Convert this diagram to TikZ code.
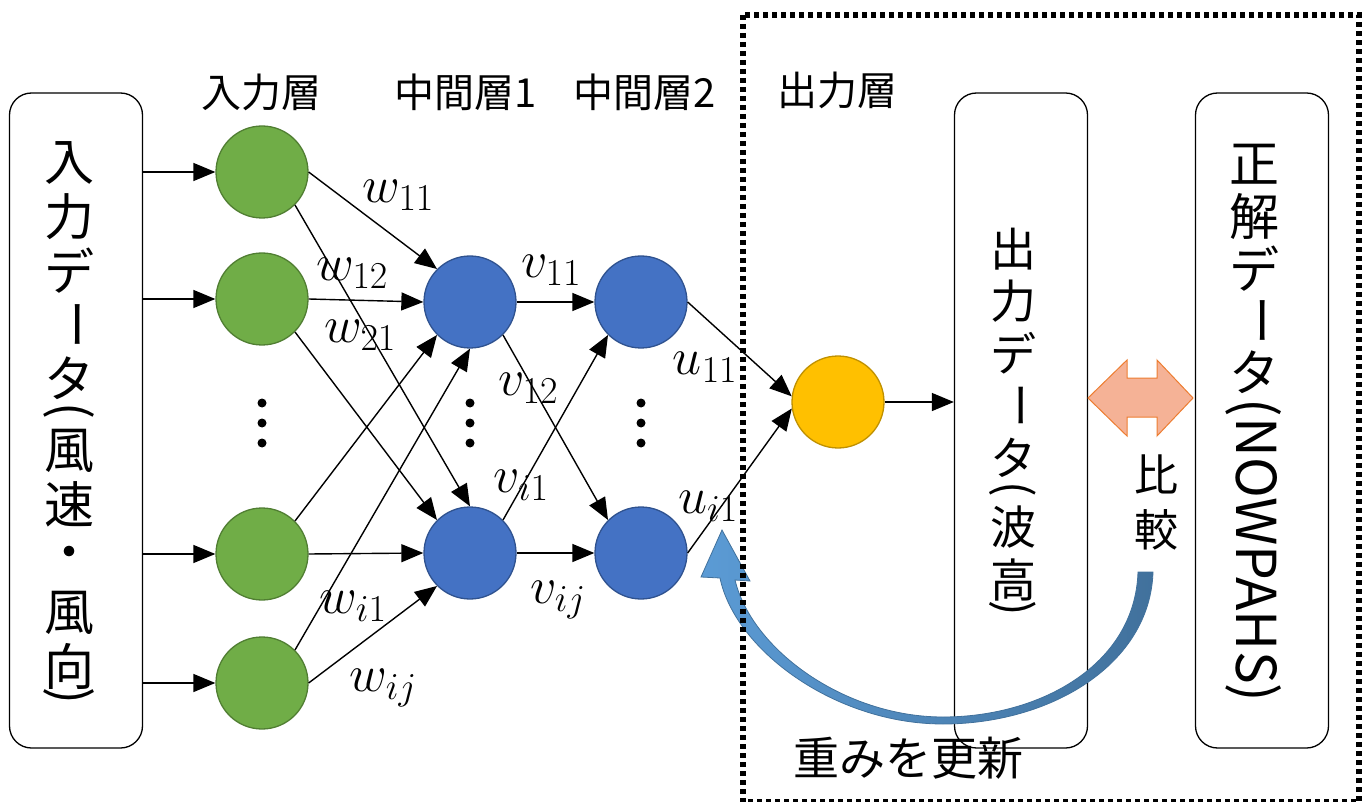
\RequirePackage{fix-cm}
\documentclass[tikz,border=0pt]{standalone}
\usepackage{fontspec}
\usepackage{graphicx}
\newfontfamily\jp{Noto Sans CJK JP}
\usetikzlibrary{arrows.meta,calc}
\DeclareMathSizes{52}{52}{38}{28}
\definecolor{gfill}{RGB}{112,173,71}
\definecolor{gline}{RGB}{80,126,50}
\definecolor{bfill}{RGB}{68,114,196}
\definecolor{bline}{RGB}{47,82,143}
\definecolor{ofill}{RGB}{255,192,0}
\definecolor{oline}{RGB}{191,144,0}
\definecolor{sfill}{RGB}{245,178,150}
\definecolor{sline}{RGB}{237,125,49}
\definecolor{clight}{RGB}{91,155,213}
\definecolor{cdark}{RGB}{65,113,156}
\newcommand\VS[2]{\hbox to 80pt{\hss\vbox to #1{\vss\hbox{#2}\vss}\hss}}
\newcommand\VR[2]{\VS{#1}{\rotatebox[origin=c]{-90}{#2}}}
\begin{document}
\begin{tikzpicture}[x=1pt,y=-1pt,
  neuron/.style={circle,minimum size=92pt,inner sep=0pt,line width=1.3pt},
  inn/.style={neuron,fill=gfill,draw=gline},
  hid/.style={neuron,fill=bfill,draw=bline},
  outn/.style={neuron,fill=ofill,draw=oline},
  databox/.style={draw,line width=1.3pt,rounded corners=22pt,minimum width=133pt,minimum height=655pt,inner sep=0pt},
  conn/.style={line width=1.4pt,-{Triangle[length=22pt,width=18pt]}},
  lbl/.style={inner sep=0pt,font=\fontsize{52}{52}\selectfont},
  hdr/.style={inner sep=0pt,font=\jp\fontsize{40}{40}\selectfont},
  vtext/.style={inner sep=0pt,font=\jp\fontsize{50}{50}\selectfont},
  otext/.style={inner sep=0pt,font=\jp\fontsize{46}{46}\selectfont}]
\useasboundingbox (0,0) rectangle (1363,802);

% data boxes
\node[databox] (lbox) at (76,420.5) {};
\node[databox] (obox) at (1021,420.5) {};
\node[databox] (rbox) at (1262,420.5) {};

% neurons
\node[inn] (i1) at (262,172) {};
\node[inn] (i2) at (262,299) {};
\node[inn] (i3) at (262,554) {};
\node[inn] (i4) at (262,683) {};
\node[hid] (a1) at (470,302) {};
\node[hid] (a2) at (470,553) {};
\node[hid] (b1) at (641,302) {};
\node[hid] (b2) at (641,553) {};
\node[outn] (o) at (838,402) {};

% vertical dots
\foreach \x in {262,470,641}{
  \foreach \y in {403,423,443}{\fill (\x,\y) circle (4.5);}}

% input arrows
\foreach \n in {i1,i2,i3,i4}{\draw[conn] (lbox.east |- \n) -- (\n.west);}

% layer 1
\draw[conn] (i1.east) -- (a1.north west);
\draw[conn] (i1.south east) -- (a2.north);
\draw[conn] (i2.east) -- (a1.west);
\draw[conn] (i2.south east) -- (a2.north west);
\draw[conn] (i3.north east) -- (a1.south west);
\draw[conn] (i3.east) -- (a2.west);
\draw[conn] (i4.north east) -- (a1.south);
\draw[conn] (i4.east) -- (a2.south west);
% layer 2
\draw[conn] (a1.east) -- (b1.west);
\draw[conn] (a1.south east) -- (b2.north west);
\draw[conn] (a2.north east) -- (b1.south west);
\draw[conn] (a2.east) -- (b2.west);
% output
\draw[conn] (b1.east) -- (o.173);
\draw[conn] (b2.east) -- (o.188);
\draw[conn] (o.east) -- (o.east -| obox.west);

% weight labels
\node[lbl] (lw11) at (398,195) {$w_{11}$};
\node[lbl] (lw12) at (352,273) {$w_{12}$};
\node[lbl] (lw21) at (360,335) {$w_{21}$};
\node[lbl] (lwi1) at (353,606) {$w_{i1}$};
\node[lbl] (lwij) at (383,688) {$w_{ij}$};
\node[lbl] (lv11) at (551,270) {$v_{11}$};
\node[lbl] (lv12) at (528,388) {$v_{12}$};
\node[lbl] (lvi1) at (521,485) {$v_{i1}$};
\node[lbl] (lvij) at (558,600) {$v_{ij}$};
\node[lbl] (lu11) at (705,367) {$u_{11}$};
\node[lbl] (lui1) at (708,506) {$u_{i1}$};

% headers
\node[hdr] (h1) at (261,92) {入力層};
\node[hdr] (h2) at (466,92) {中間層1};
\node[hdr] (h3) at (645,92) {中間層2};
\node[hdr] (h4) at (837,90) {出力層};

% box texts
\node[vtext] (ltxt) at ([xshift=-7pt]lbox.center) {\vbox{\offinterlineskip
  \VS{54pt}{入}\VS{54pt}{力}\VS{54pt}{デ}\VR{54pt}{ー}\VS{54pt}{タ}\VR{18pt}{(}%
  \VS{54pt}{風}\VS{54pt}{速}\VS{54pt}{・}\VS{54pt}{風}\VS{54pt}{向}\VR{12pt}{)}}};
\node[otext] (otxt) at ([xshift=-8pt]obox.center) {\vbox{\offinterlineskip
  \VS{52pt}{出}\VS{52pt}{力}\VS{52pt}{デ}\VR{52pt}{ー}\VS{52pt}{タ}\VR{18pt}{(}%
  \VS{52pt}{波}\VS{52pt}{高}\VR{12pt}{)}}};
\node[vtext] (rtxt) at ([xshift=-8pt]rbox.center) {\vbox{\offinterlineskip
  \VS{52pt}{正}\VS{52pt}{解}\VS{52pt}{デ}\VR{52pt}{ー}\VS{52pt}{タ}%
  \hbox to 80pt{\hss\rotatebox[origin=c]{-90}{\fontsize{55}{55}\selectfont(NOWPAHS)}\hss}}};

% compare arrow
\draw[sline,fill=sfill,line width=1pt]
  (1088,398) -- (1127,360) -- (1127,378) -- (1157,378) -- (1157,360) -- (1193,398)
  -- (1157,436) -- (1157,417) -- (1127,417) -- (1127,436) -- cycle;
\node[otext,font=\jp\fontsize{44}{44}\selectfont] (cmp) at (1156,502) {\vbox{\offinterlineskip\VS{56pt}{比}\VS{56pt}{較}}};

% feedback arrow
\path[draw=cdark,line width=0.8pt,left color=clight,right color=cdark]
  (1138,572) -- (1153,572)
  .. controls (1150,665) and (1050,724) .. (943,724)
  .. controls (835,724) and (735,650) .. (720,578)
  -- (701,577) -- (722,530) -- (750,581) -- (735,580)
  .. controls (752,650) and (845,717) .. (943,717)
  .. controls (1040,717) and (1135,665) .. (1138,572) -- cycle;
\node[otext] (upd) at (908,758) {重みを更新};

% dotted frame
\draw[line width=5.5pt,dash pattern=on 5pt off 4pt] (743,15) rectangle (1359,802);
\end{tikzpicture}
\end{document}
